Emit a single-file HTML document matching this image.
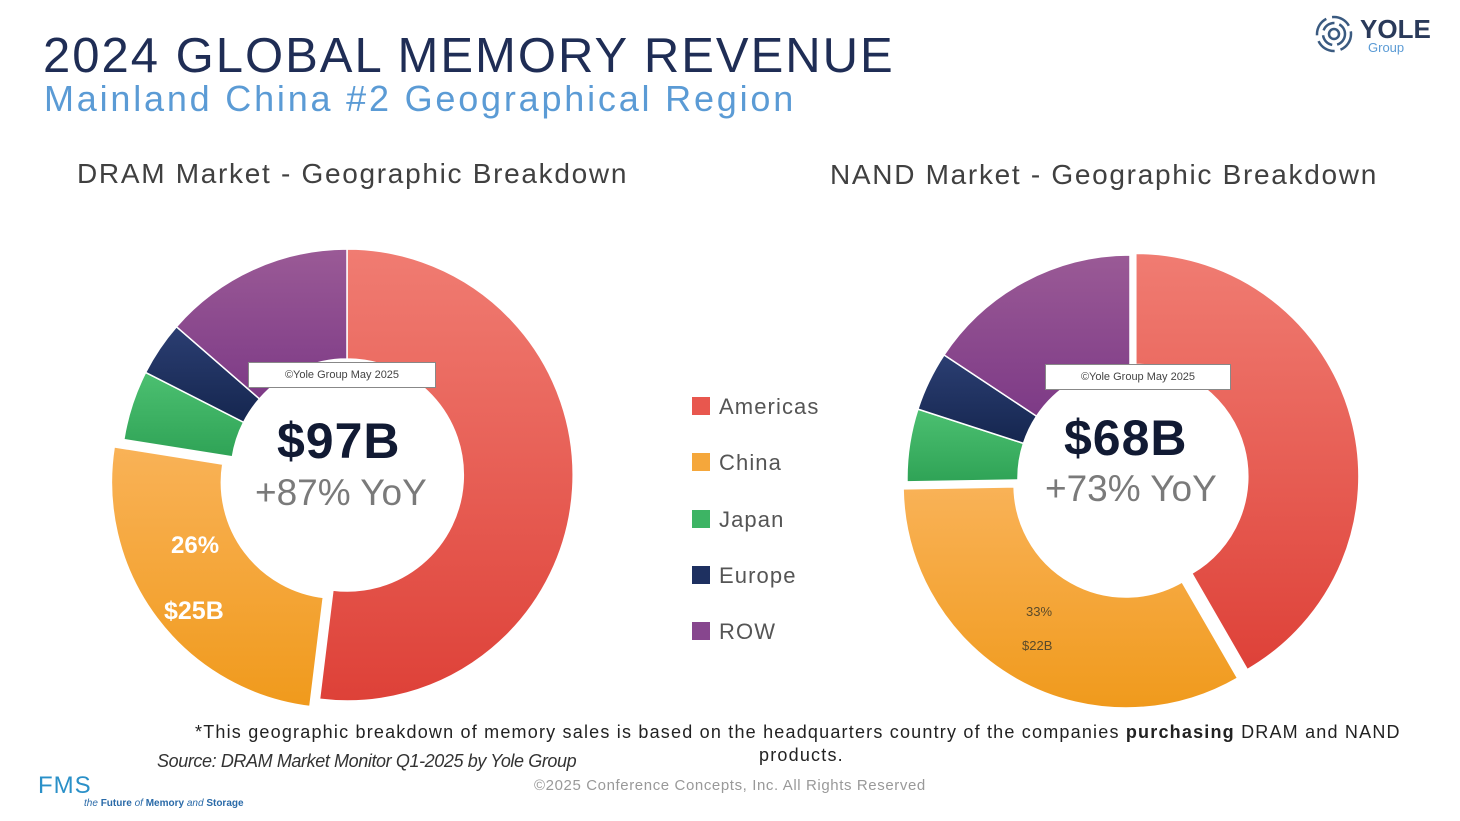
<!DOCTYPE html>
<html><head><meta charset="utf-8"><style>
body{margin:0;width:1460px;height:821px;background:#fff;overflow:hidden;position:relative;font-family:"Liberation Sans",sans-serif}
.a{position:absolute;white-space:nowrap}
</style></head><body>
<div class="a" style="left:43px;top:28px;font-size:49px;color:#1f2d55;letter-spacing:2px">2024 GLOBAL MEMORY REVENUE</div>
<div class="a" style="left:44px;top:78px;font-size:36px;color:#5b9bd5;letter-spacing:2.8px">Mainland China #2 Geographical Region</div>
<div class="a" style="left:77px;top:158px;font-size:28px;color:#404040;letter-spacing:1.7px">DRAM Market - Geographic Breakdown</div>
<div class="a" style="left:830px;top:159px;font-size:28px;color:#404040;letter-spacing:1.7px">NAND Market - Geographic Breakdown</div>
<svg class="a" style="left:1314px;top:14px" width="40" height="40" viewBox="0 0 40 40" fill="none" stroke="#3a5a80" stroke-width="2.5">
<circle cx="20" cy="20" r="17" stroke-dasharray="20 6"/><circle cx="20" cy="20" r="11" stroke-dasharray="14 5"/><circle cx="20" cy="20" r="5"/></svg>
<div class="a" style="left:1360px;top:14px;font-size:26px;font-weight:bold;color:#2a3a5a">YOLE</div>
<div class="a" style="left:1368px;top:40px;font-size:13px;color:#5b9bd5">Group</div>
<svg id="s" class="a" style="left:0;top:0" width="1460" height="821">
<defs>
<linearGradient id="r" x1="0" y1="0" x2="0" y2="1"><stop offset="0" stop-color="#f07c72"/><stop offset="1" stop-color="#de4138"/></linearGradient>
<linearGradient id="o" x1="0" y1="0" x2="0" y2="1"><stop offset="0" stop-color="#f9b257"/><stop offset="1" stop-color="#f09a1c"/></linearGradient>
<linearGradient id="g" x1="0" y1="0" x2="0" y2="1"><stop offset="0" stop-color="#4cc071"/><stop offset="1" stop-color="#2fa356"/></linearGradient>
<linearGradient id="b" x1="0" y1="0" x2="0" y2="1"><stop offset="0" stop-color="#2b3e72"/><stop offset="1" stop-color="#15264f"/></linearGradient>
<linearGradient id="p" x1="0" y1="0" x2="0" y2="1"><stop offset="0" stop-color="#9a5a96"/><stop offset="1" stop-color="#7d3a86"/></linearGradient>
</defs>
</svg>
<script>
var s=document.getElementById('s');
function arc(cx,cy,R,r,a0,a1,fill,ex){
 var m=(a0+a1)/2*Math.PI/180;cx+=ex*Math.sin(m);cy-=ex*Math.cos(m);
 function p(rr,a){a=a*Math.PI/180;return (cx+rr*Math.sin(a)).toFixed(1)+' '+(cy-rr*Math.cos(a)).toFixed(1);}
 var l=(a1-a0)>180?1:0;
 var d='M'+p(R,a0)+' A'+R+' '+R+' 0 '+l+' 1 '+p(R,a1)+' L'+p(r,a1)+' A'+r+' '+r+' 0 '+l+' 0 '+p(r,a0)+'Z';
 var e=document.createElementNS('http://www.w3.org/2000/svg','path');e.setAttribute('d',d);e.setAttribute('fill',fill);e.setAttribute('stroke','#fff');e.setAttribute('stroke-width','1.5');s.appendChild(e);}
arc(347,475,226,116,0,187,'url(#r)',0);
arc(347,475,226,116,187,279,'url(#o)',12);
arc(347,475,226,116,279,297,'url(#g)',0);
arc(347,475,226,116,297,311,'url(#b)',0);
arc(347,475,226,116,311,360,'url(#p)',0);
arc(1130,478,223,112,0,150,'url(#r)',6);
arc(1130,478,223,112,150,269,'url(#o)',8);
arc(1130,478,223,112,269,288,'url(#g)',0);
arc(1130,478,223,112,288,303.5,'url(#b)',0);
arc(1130,478,223,112,303.5,360,'url(#p)',0);
</script>
<div class="a" style="left:248px;top:362px;width:186px;height:24px;border:1px solid #888;background:#fff;font-size:11px;color:#444;text-align:center;line-height:24px">©Yole Group May 2025</div>
<div class="a" style="left:1045px;top:364px;width:184px;height:24px;border:1px solid #888;background:#fff;font-size:11px;color:#444;text-align:center;line-height:24px">©Yole Group May 2025</div>
<div class="a" style="left:277px;top:412px;font-size:50px;font-weight:bold;color:#111a33;letter-spacing:1px">$97B</div>
<div class="a" style="left:255px;top:472px;font-size:37px;color:#7a7a7a">+87% YoY</div>
<div class="a" style="left:1064px;top:409px;font-size:50px;font-weight:bold;color:#111a33;letter-spacing:1px">$68B</div>
<div class="a" style="left:1045px;top:468px;font-size:37px;color:#7a7a7a">+73% YoY</div>
<div class="a" style="left:171px;top:532px;font-size:24px;font-weight:bold;color:#fff">26%</div>
<div class="a" style="left:164px;top:597px;font-size:25px;font-weight:bold;color:#fff">$25B</div>
<div class="a" style="left:1026px;top:604px;font-size:13px;color:#5a4a2a">33%</div>
<div class="a" style="left:1022px;top:638px;font-size:13px;color:#5a4a2a">$22B</div>
<div class="a" style="left:692px;top:397px;width:18px;height:18px;background:#e8574e"></div><div class="a" style="left:719px;top:394px;font-size:22px;color:#555;letter-spacing:1.1px">Americas</div>
<div class="a" style="left:692px;top:453px;width:18px;height:18px;background:#f5a73b"></div><div class="a" style="left:719px;top:450px;font-size:22px;color:#555;letter-spacing:1.1px">China</div>
<div class="a" style="left:692px;top:510px;width:18px;height:18px;background:#3db464"></div><div class="a" style="left:719px;top:507px;font-size:22px;color:#555;letter-spacing:1.1px">Japan</div>
<div class="a" style="left:692px;top:566px;width:18px;height:18px;background:#1e3060"></div><div class="a" style="left:719px;top:563px;font-size:22px;color:#555;letter-spacing:1.1px">Europe</div>
<div class="a" style="left:692px;top:622px;width:18px;height:18px;background:#87468e"></div><div class="a" style="left:719px;top:619px;font-size:22px;color:#555;letter-spacing:1.1px">ROW</div>
<div class="a" style="left:195px;top:722px;font-size:18px;color:#222;letter-spacing:1.2px">*This geographic breakdown of memory sales is based on the headquarters country of the companies <b>purchasing</b> DRAM and NAND</div>
<div class="a" style="left:759px;top:745px;font-size:18px;color:#222;letter-spacing:1.2px">products.</div>
<div class="a" style="left:157px;top:751px;font-size:18px;font-style:italic;color:#333;letter-spacing:-0.4px">Source: DRAM Market Monitor Q1-2025 by Yole Group</div>
<div class="a" style="left:534px;top:777px;font-size:15px;color:#999;letter-spacing:0.6px">©2025 Conference Concepts, Inc. All Rights Reserved</div>
<div class="a" style="left:38px;top:772px;font-size:24px;color:#2a90c8;letter-spacing:1px">FMS</div>
<div class="a" style="left:84px;top:798px;font-size:10px;color:#2a6aa8"><i>the</i> <b>Future</b> <i>of</i> <b>Memory</b> <i>and</i> <b>Storage</b></div>
</body></html>
